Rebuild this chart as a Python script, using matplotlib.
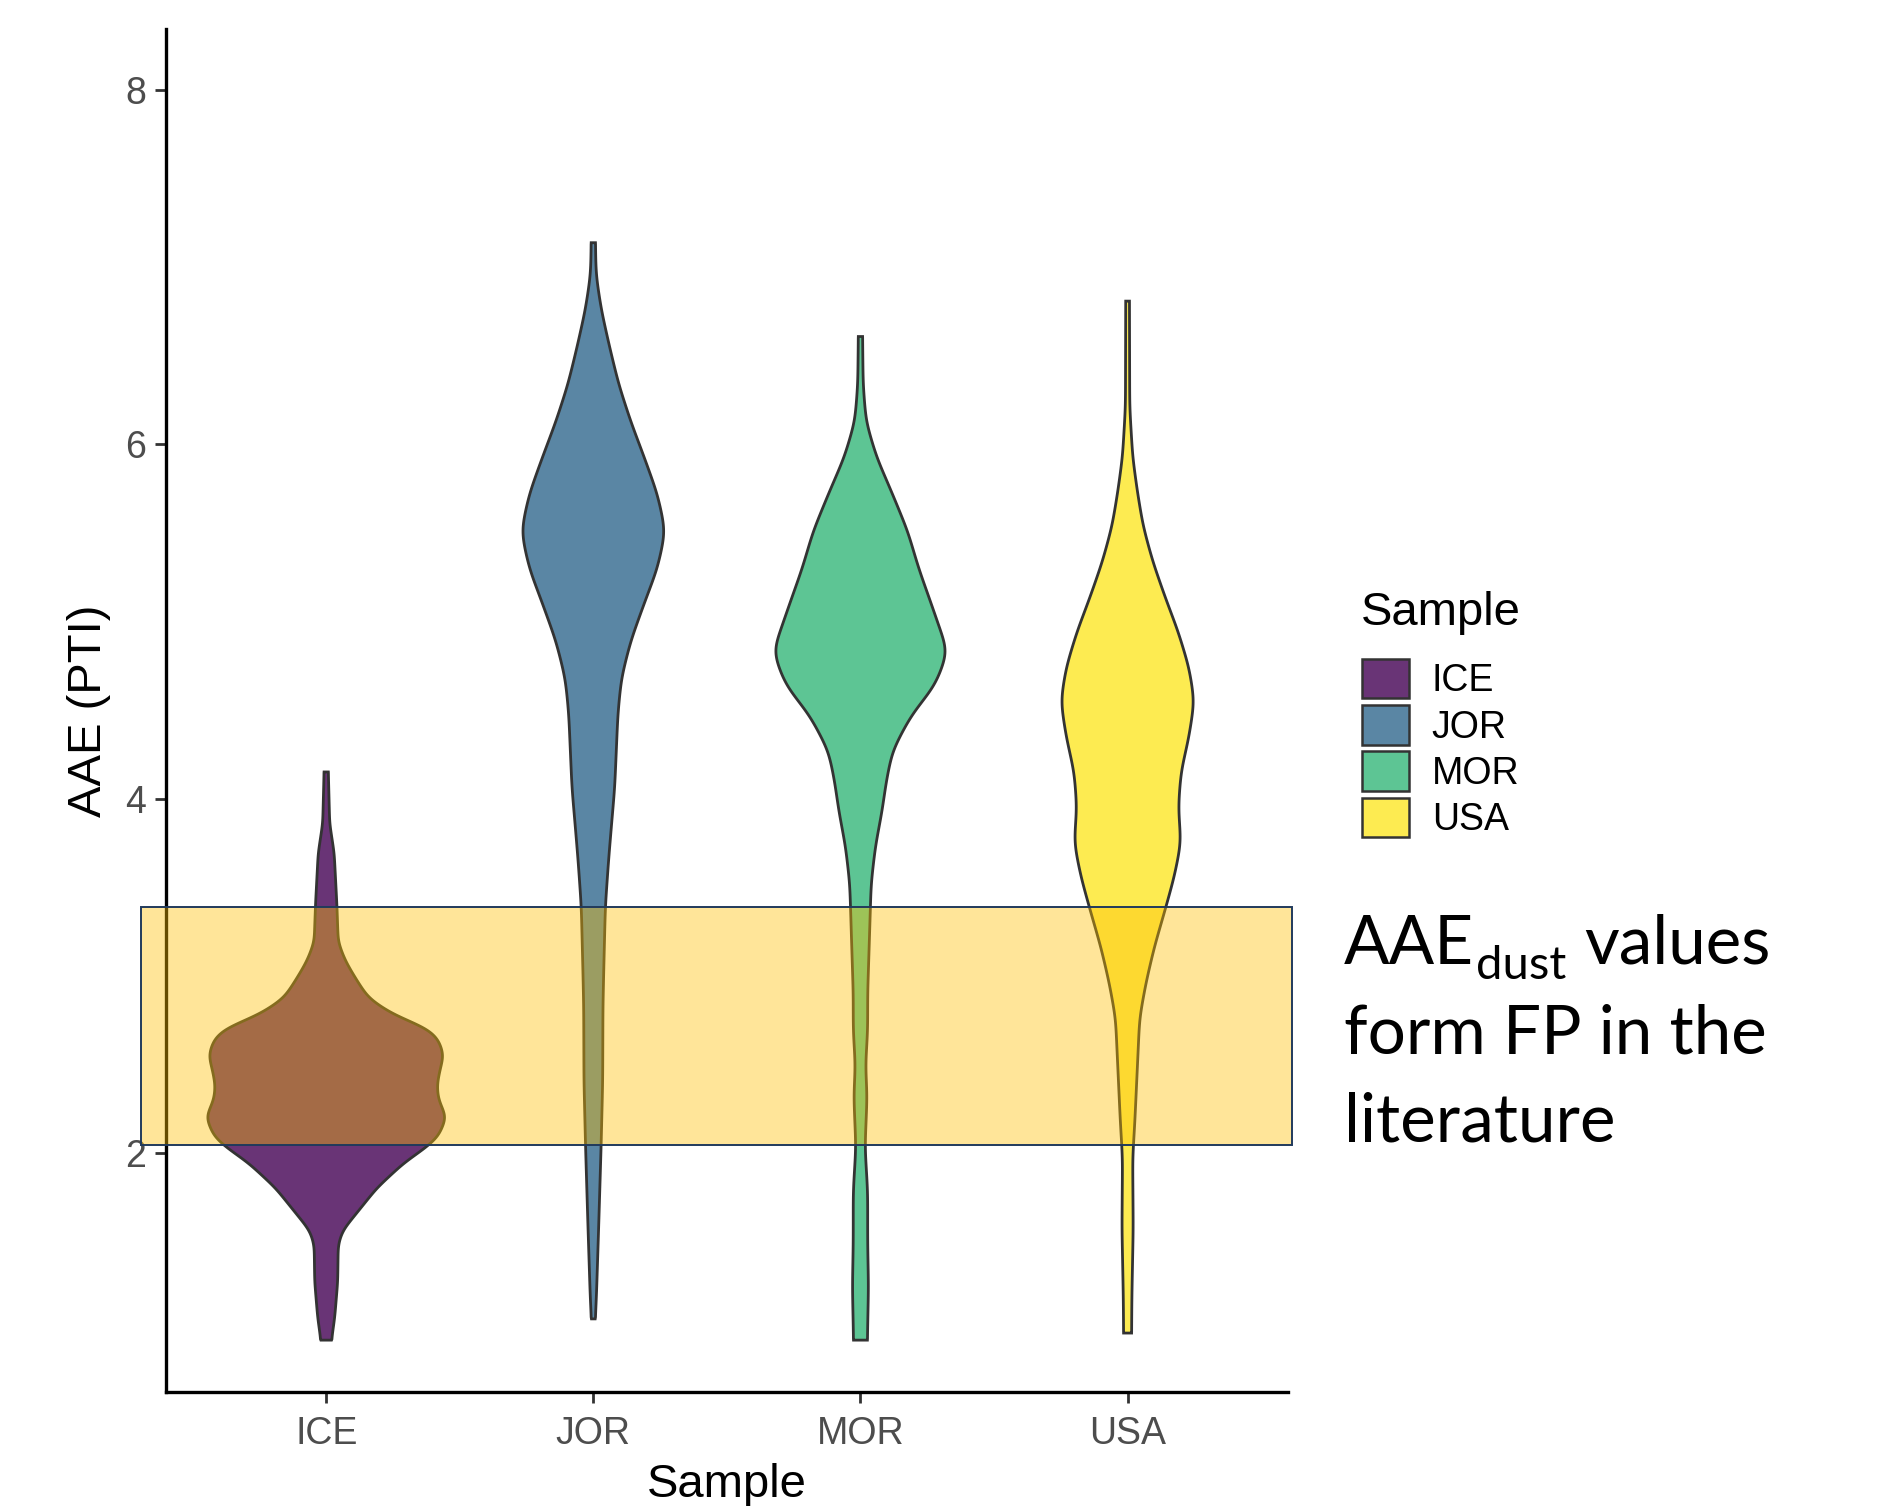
import numpy as np
import matplotlib
matplotlib.use("Agg")
import matplotlib.pyplot as plt
from matplotlib.colors import to_rgba
from matplotlib.patches import Patch, Rectangle

plt.rcParams['font.family'] = 'Liberation Sans'

samples = ['ICE', 'JOR', 'MOR', 'USA']
colors = ['#440154', '#31688E', '#35B779', '#FDE725']

# violin outlines: AAE levels and half-widths (in category units)
ice_y = [0.94, 1.07, 1.27, 1.48, 1.56, 1.65, 1.80, 1.94, 2.03, 2.09, 2.20, 2.30, 2.38,
         2.46, 2.55, 2.64, 2.70, 2.78, 2.87, 2.96, 3.05, 3.10, 3.19, 3.40, 3.69, 3.86, 4.15]
ice_w = [0.020, 0.032, 0.043, 0.045, 0.062, 0.110, 0.190, 0.290, 0.375, 0.420, 0.450, 0.420, 0.415,
         0.425, 0.440, 0.420, 0.380, 0.250, 0.160, 0.120, 0.084, 0.067, 0.045, 0.040, 0.030, 0.013, 0.008]

jor_y = [1.06, 1.16, 1.58, 2.03, 2.40, 2.82, 3.03, 3.39, 3.65, 3.85, 4.06, 4.27, 4.48,
         4.68, 4.89, 5.10, 5.30, 5.51, 5.72, 5.93, 6.13, 6.34, 6.55, 6.76, 6.96, 7.14]
jor_w = [0.007, 0.011, 0.020, 0.029, 0.035, 0.036, 0.039, 0.045, 0.057, 0.068, 0.080, 0.086, 0.092,
         0.105, 0.140, 0.190, 0.240, 0.270, 0.240, 0.190, 0.140, 0.095, 0.061, 0.030, 0.010, 0.008]

mor_y = [0.94, 1.24, 1.49, 1.78, 2.03, 2.32, 2.49, 2.69, 2.90, 3.23, 3.52, 3.73, 3.93,
         4.10, 4.27, 4.47, 4.64, 4.83, 5.10, 5.30, 5.51, 5.72, 5.93, 6.13, 6.34, 6.61]
mor_w = [0.026, 0.030, 0.027, 0.027, 0.017, 0.025, 0.019, 0.027, 0.027, 0.034, 0.040, 0.056, 0.081,
         0.097, 0.120, 0.190, 0.280, 0.327, 0.265, 0.218, 0.177, 0.120, 0.060, 0.021, 0.010, 0.008]

usa_y = [0.98, 1.18, 1.57, 1.97, 2.17, 2.56, 2.76, 2.96, 3.16, 3.39, 3.56, 3.75, 3.95,
         4.15, 4.35, 4.55, 4.74, 4.94, 5.14, 5.34, 5.54, 5.73, 5.93, 6.21, 6.81]
usa_w = [0.015, 0.016, 0.021, 0.019, 0.027, 0.039, 0.045, 0.069, 0.100, 0.144, 0.175, 0.200, 0.190,
         0.200, 0.230, 0.250, 0.230, 0.190, 0.140, 0.094, 0.058, 0.037, 0.019, 0.008, 0.007]

profiles = [(ice_y, ice_w), (jor_y, jor_w), (mor_y, mor_w), (usa_y, usa_w)]

# range of literature AAE_dust values
band_lo, band_hi = 2.04, 3.385

fig = plt.figure(figsize=(18.79, 15.06), dpi=100)
ax = fig.add_axes([0.0883, 0.0757, 0.5971, 0.905])

for i, (name, col, (py, pw)) in enumerate(zip(samples, colors, profiles)):
    py = np.array(py)
    pw = np.array(pw)
    yy = np.linspace(py[0], py[-1], 600)
    ww = np.interp(yy, py, pw)
    # light smoothing of the piecewise outline
    k = np.exp(-0.5 * (np.arange(-15, 16) / 6.0) ** 2)
    k /= k.sum()
    pad = np.concatenate([np.full(15, ww[0]), ww, np.full(15, ww[-1])])
    ww = np.convolve(pad, k, mode='valid')
    ww[0], ww[-1] = pw[0], pw[-1]
    xc = i + 1
    xs = np.concatenate([xc + ww, (xc - ww)[::-1]])
    ys = np.concatenate([yy, yy[::-1]])
    ax.fill(xs, ys, facecolor=to_rgba(col, 0.8), edgecolor='#333333', lw=2.0, zorder=2)

band = Rectangle((0.305, band_lo), 4.614 - 0.305, band_hi - band_lo,
                 facecolor=to_rgba('#FFC000', 0.4), edgecolor='#203A5C', lw=1.4,
                 zorder=3, clip_on=False)
ax.add_patch(band)

ax.set_xlim(0.4, 4.6)
ax.set_ylim(0.647, 8.347)
ax.set_xticks(range(1, 5))
ax.set_xticklabels(samples)
ax.set_yticks([2, 4, 6, 8])

for s in ['top', 'right']:
    ax.spines[s].set_visible(False)
for s in ['left', 'bottom']:
    ax.spines[s].set_linewidth(2.4)
    ax.spines[s].set_color('black')
ax.tick_params(axis='both', length=8, width=2.0, color='#333333',
               labelsize=27, labelcolor='#4D4D4D', pad=6)
ax.tick_params(axis='x', pad=9.5)

ax.set_xlabel('Sample', fontsize=34, labelpad=8)
ax.set_ylabel('AAE (PTI)', fontsize=34, labelpad=10.6)

# legend: title placed on its own, keys below
fig.text(1361 / 1879, 1 - 625 / 1506, 'Sample', fontsize=34, va='baseline')
handles = [Patch(facecolor=to_rgba(c, 0.8), edgecolor='#333333', lw=1.8) for c in colors]
leg = ax.legend(handles, samples, loc='upper left',
                bbox_to_anchor=(1362 / 1879, 1 - 659 / 1506), bbox_transform=fig.transFigure,
                fontsize=27, frameon=False,
                handlelength=1.24, handleheight=1.24, labelspacing=0.156,
                handletextpad=0.62, borderpad=0, borderaxespad=0)

# side note, with the subscript set by hand
note_font = dict(family='Lato', color='black')
renderer = fig.canvas.get_renderer()
x0 = 1344
t1 = fig.text(x0 / 1879, 1 - 964 / 1506, 'AAE', fontsize=48.5, va='baseline', **note_font)
x1 = t1.get_window_extent(renderer).x1 + 2
t2 = fig.text(x1 / 1879, 1 - 979 / 1506, 'dust', fontsize=34, va='baseline', **note_font)
x2 = t2.get_window_extent(renderer).x1 + 18
fig.text(x2 / 1879, 1 - 964 / 1506, 'values', fontsize=48.5, va='baseline', **note_font)
fig.text(x0 / 1879, 1 - 1054 / 1506, 'form FP in the', fontsize=48.5, va='baseline', **note_font)
fig.text(x0 / 1879, 1 - 1142 / 1506, 'literature', fontsize=48.5, va='baseline', **note_font)

fig.savefig('out.png', dpi=100)
